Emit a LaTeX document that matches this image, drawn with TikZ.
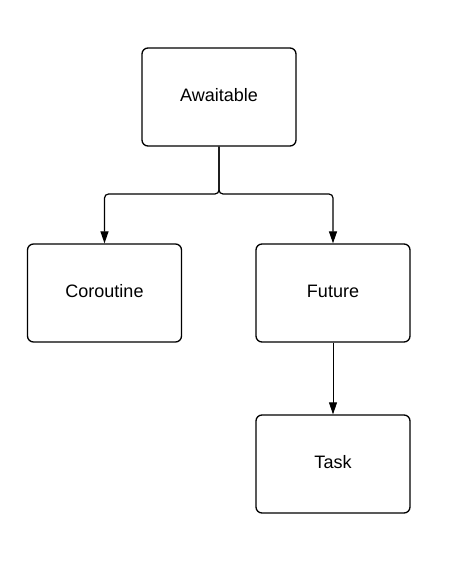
\documentclass[tikz,border=0pt]{standalone}
\usepackage{fontspec}
\setmainfont{Liberation Sans}
\usetikzlibrary{arrows.meta}
\begin{document}
\begin{tikzpicture}[x=1pt,y=-1pt,
  box/.style={draw, line width=1.3pt, rounded corners=6pt, minimum width=154pt, minimum height=98pt, inner sep=0pt},
  lbl/.style={font=\fontsize{18}{20}\selectfont, inner sep=0pt},
  conn/.style={line width=1.2pt, -{Triangle[length=12pt,width=8pt]}}]
\useasboundingbox (0,0) rectangle (449,575);
\node[box] (aw) at (219,97) {};
\node[box] (co) at (104.5,293) {};
\node[box] (fu) at (333,293) {};
\node[box] (ta) at (333,464) {};
\node[lbl] (awl) at ([yshift=1.5pt]aw.center) {Awaitable};
\node[lbl] (col) at ([yshift=1.5pt]co.center) {Coroutine};
\node[lbl] (ful) at ([yshift=1.5pt]fu.center) {Future};
\node[lbl] (tal) at ([yshift=1.5pt]ta.center) {Task};
\coordinate (j) at (219,194);
\draw[conn, rounded corners=4pt] (aw.south) -- (j) -| (co.north);
\draw[conn, rounded corners=4pt] (aw.south) -- (j) -| (fu.north);
\draw[conn, line width=0.8pt] (fu.south) -- (ta.north);
\end{tikzpicture}
\end{document}
